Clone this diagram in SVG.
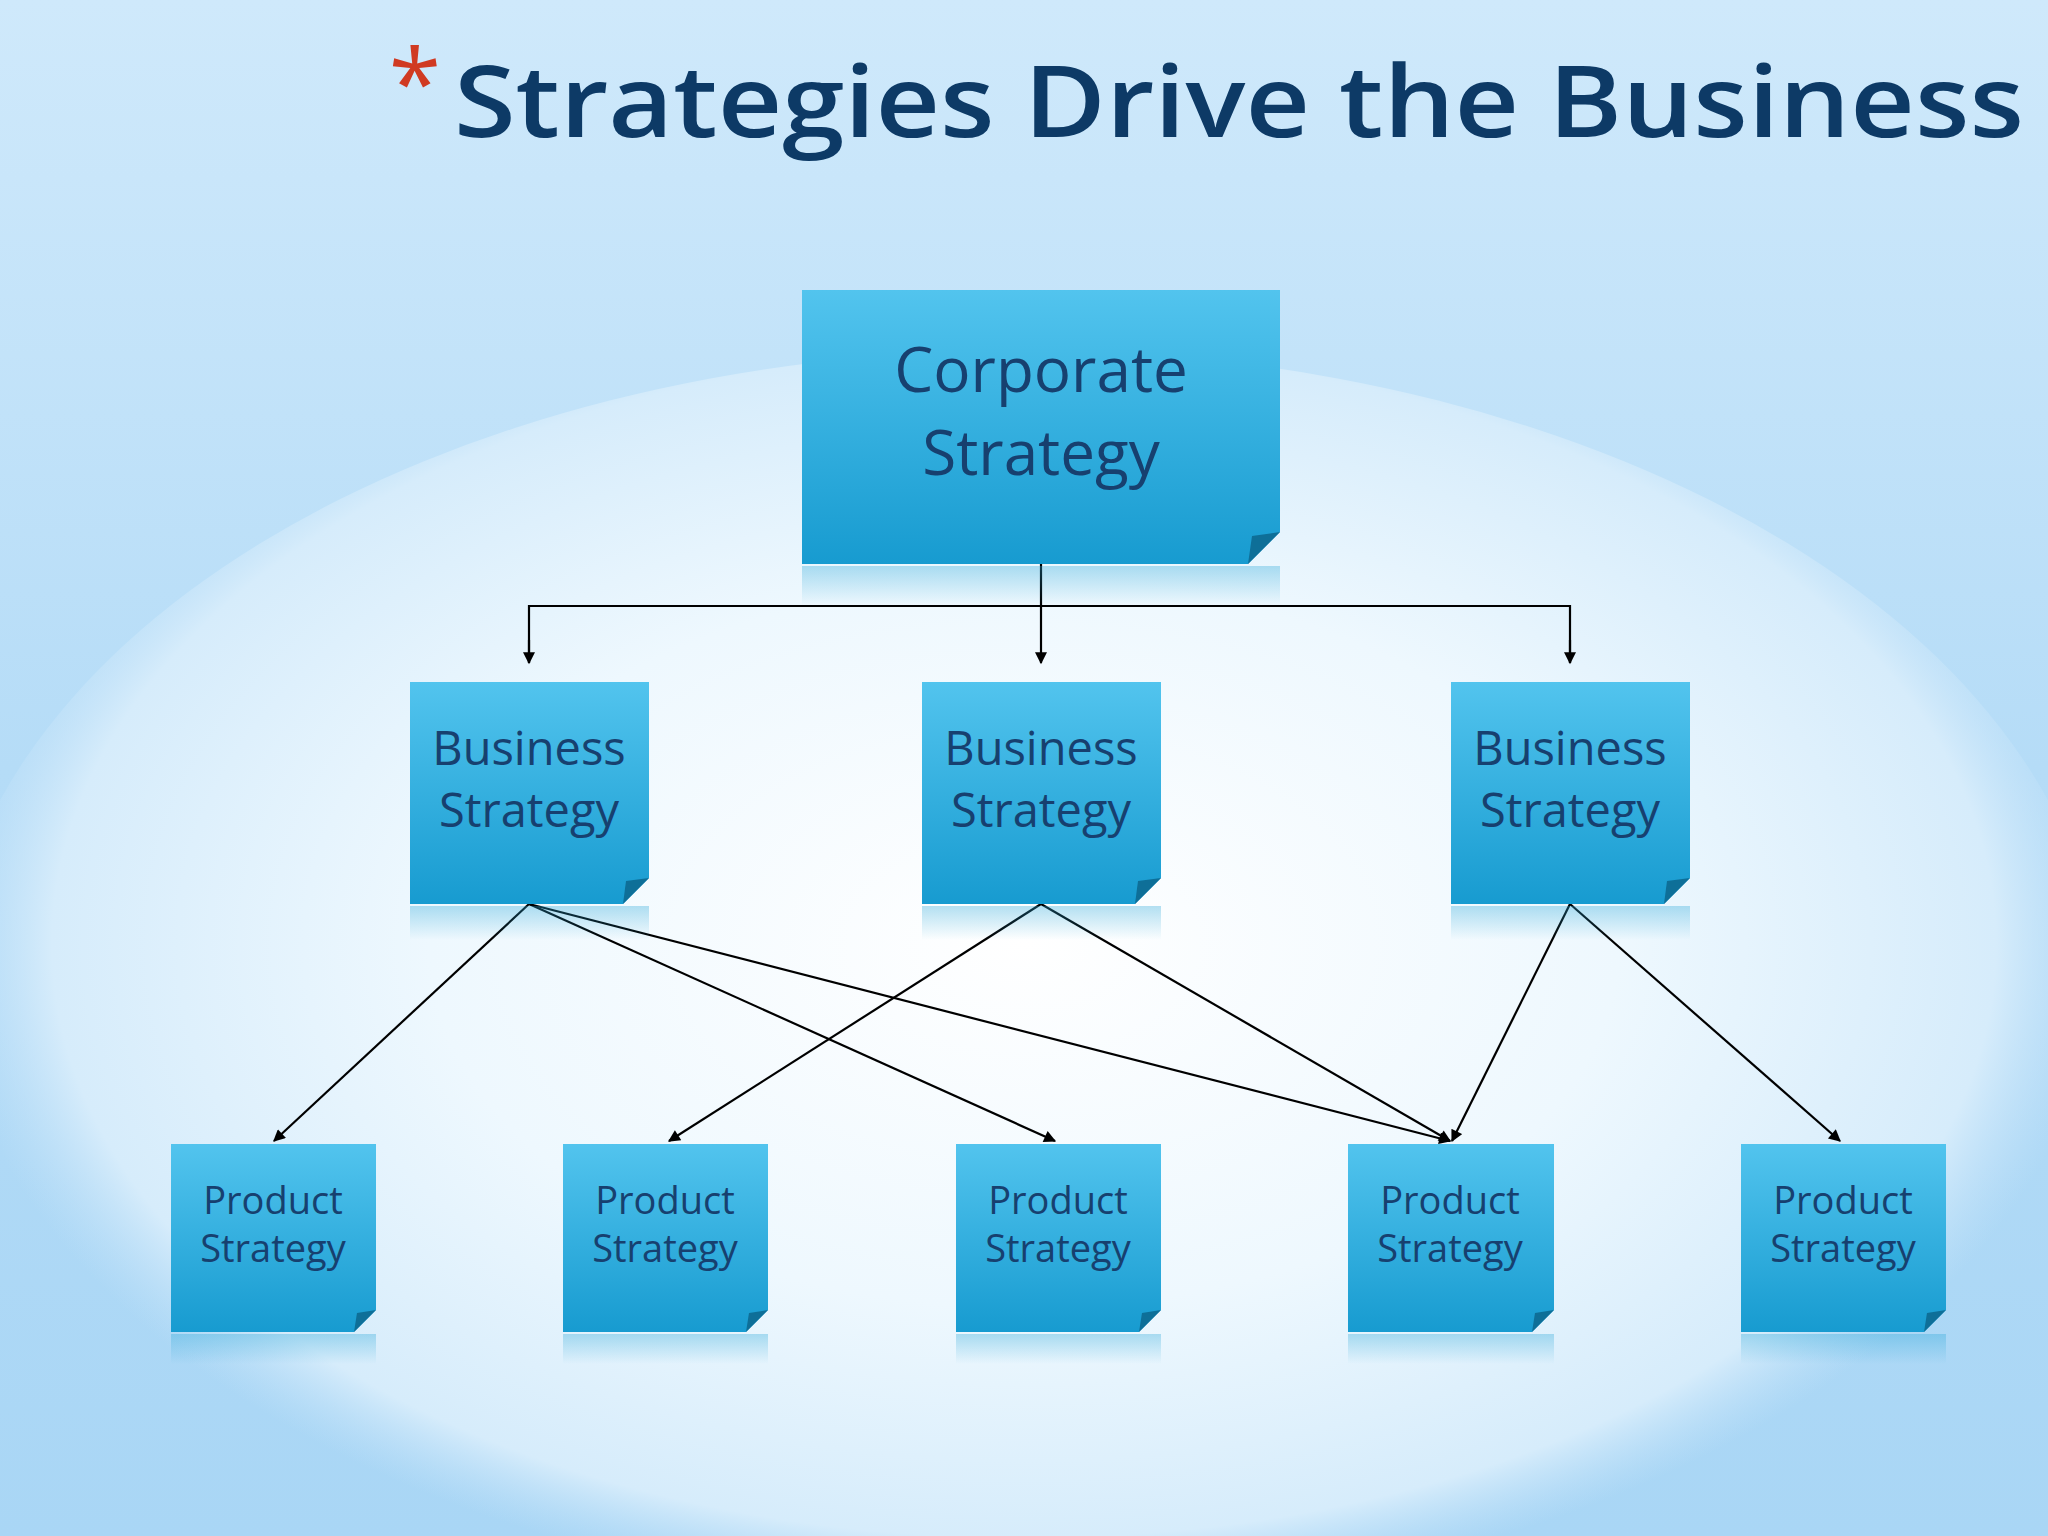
<svg xmlns="http://www.w3.org/2000/svg" width="2048" height="1536" viewBox="0 0 2048 1536">
<defs>
<linearGradient id="bg" x1="0" y1="0" x2="0" y2="1"><stop offset="0" stop-color="#cfe9fb"/><stop offset="0.5" stop-color="#b5dcf7"/><stop offset="1" stop-color="#a9d6f5"/></linearGradient>
<radialGradient id="glow" cx="0.5" cy="0.45" r="0.5"><stop offset="0" stop-color="#ffffff"/><stop offset="0.55" stop-color="#eef8fe"/><stop offset="0.9" stop-color="#d6ecfb"/><stop offset="1" stop-color="#c4e3f9" stop-opacity="0"/></radialGradient>
<linearGradient id="box" x1="0" y1="0" x2="0" y2="1"><stop offset="0" stop-color="#52c4ee"/><stop offset="1" stop-color="#179bd0"/></linearGradient>
<linearGradient id="refl" x1="0" y1="0" x2="0" y2="1"><stop offset="0" stop-color="#2aa7d8" stop-opacity="0.35"/><stop offset="1" stop-color="#2aa7d8" stop-opacity="0"/></linearGradient>
<marker id="ah" viewBox="0 0 10 10" refX="9" refY="5" markerWidth="14" markerHeight="12" markerUnits="userSpaceOnUse" orient="auto"><path d="M0,0 L10,5 L0,10 z" fill="#000"/></marker>
<style>
.t{font-family:"Open Sans","DejaVu Sans",sans-serif;fill:#17406f;text-anchor:middle}
.c{stroke:#000;stroke-width:2.2;fill:none;marker-end:url(#ah)}
.f{fill:#0e6f98}
</style>
</defs>
<rect width="2048" height="1536" fill="url(#bg)"/>
<ellipse cx="1024" cy="1010" rx="1080" ry="660" fill="url(#glow)"/>
<text x="415" y="118" font-family="Open Sans, sans-serif" font-size="95" fill="#d03a22" text-anchor="middle">*</text>
<text x="454" y="137" font-family="Open Sans, DejaVu Sans, sans-serif" font-weight="600" font-size="100" fill="#0d3a66" textLength="1570" lengthAdjust="spacingAndGlyphs">Strategies Drive the Business</text>
<g id="connectors">
<line x1="1041" y1="546" x2="1041" y2="663" class="c"/>
<polyline points="529,663 529,606 1570,606 1570,663" stroke="#000" stroke-width="2.2" fill="none"/>
<line x1="529" y1="640" x2="529" y2="663" class="c"/>
<line x1="1570" y1="640" x2="1570" y2="663" class="c"/>
<line x1="529" y1="904" x2="274" y2="1141" class="c"/>
<line x1="529" y1="904" x2="1055" y2="1141" class="c"/>
<line x1="529" y1="904" x2="1450" y2="1141" class="c"/>
<line x1="1041" y1="904" x2="669" y2="1141" class="c"/>
<line x1="1041" y1="904" x2="1450" y2="1141" class="c"/>
<line x1="1570" y1="904" x2="1452" y2="1141" class="c"/>
<line x1="1570" y1="904" x2="1840" y2="1141" class="c"/>
</g>
<g id="corporate">
<rect x="802" y="566" width="478" height="40" fill="url(#refl)"/>
<path d="M802,290 H1280 V532 L1248,564 H802 Z" fill="url(#box)"/><path d="M1280,532 L1248,564 L1252,536 Z" class="f"/>
<text class="t" x="1041" y="392" font-size="62">Corporate</text><text class="t" x="1041" y="475" font-size="62">Strategy</text>
</g>
<g id="business1"><rect x="410" y="906" width="239" height="34" fill="url(#refl)"/><path d="M410,682 H649 V878 L623,904 H410 Z" fill="url(#box)"/><path d="M649,878 L623,904 L626,881 Z" class="f"/><text class="t" x="529" y="765" font-size="47">Business</text><text class="t" x="529" y="827" font-size="47">Strategy</text></g>
<g id="business2"><rect x="922" y="906" width="239" height="34" fill="url(#refl)"/><path d="M922,682 H1161 V878 L1135,904 H922 Z" fill="url(#box)"/><path d="M1161,878 L1135,904 L1138,881 Z" class="f"/><text class="t" x="1041" y="765" font-size="47">Business</text><text class="t" x="1041" y="827" font-size="47">Strategy</text></g>
<g id="business3"><rect x="1451" y="906" width="239" height="34" fill="url(#refl)"/><path d="M1451,682 H1690 V878 L1664,904 H1451 Z" fill="url(#box)"/><path d="M1690,878 L1664,904 L1667,881 Z" class="f"/><text class="t" x="1570" y="765" font-size="47">Business</text><text class="t" x="1570" y="827" font-size="47">Strategy</text></g>
<g id="product1"><rect x="171" y="1334" width="205" height="30" fill="url(#refl)"/><path d="M171,1144 H376 V1310 L354,1332 H171 Z" fill="url(#box)"/><path d="M376,1310 L354,1332 L357,1313 Z" class="f"/><text class="t" x="273" y="1214" font-size="38">Product</text><text class="t" x="273" y="1262" font-size="38">Strategy</text></g>
<g id="product2"><rect x="563" y="1334" width="205" height="30" fill="url(#refl)"/><path d="M563,1144 H768 V1310 L746,1332 H563 Z" fill="url(#box)"/><path d="M768,1310 L746,1332 L749,1313 Z" class="f"/><text class="t" x="665" y="1214" font-size="38">Product</text><text class="t" x="665" y="1262" font-size="38">Strategy</text></g>
<g id="product3"><rect x="956" y="1334" width="205" height="30" fill="url(#refl)"/><path d="M956,1144 H1161 V1310 L1139,1332 H956 Z" fill="url(#box)"/><path d="M1161,1310 L1139,1332 L1142,1313 Z" class="f"/><text class="t" x="1058" y="1214" font-size="38">Product</text><text class="t" x="1058" y="1262" font-size="38">Strategy</text></g>
<g id="product4"><rect x="1348" y="1334" width="206" height="30" fill="url(#refl)"/><path d="M1348,1144 H1554 V1310 L1532,1332 H1348 Z" fill="url(#box)"/><path d="M1554,1310 L1532,1332 L1535,1313 Z" class="f"/><text class="t" x="1450" y="1214" font-size="38">Product</text><text class="t" x="1450" y="1262" font-size="38">Strategy</text></g>
<g id="product5"><rect x="1741" y="1334" width="205" height="30" fill="url(#refl)"/><path d="M1741,1144 H1946 V1310 L1924,1332 H1741 Z" fill="url(#box)"/><path d="M1946,1310 L1924,1332 L1927,1313 Z" class="f"/><text class="t" x="1843" y="1214" font-size="38">Product</text><text class="t" x="1843" y="1262" font-size="38">Strategy</text></g>
</svg>
